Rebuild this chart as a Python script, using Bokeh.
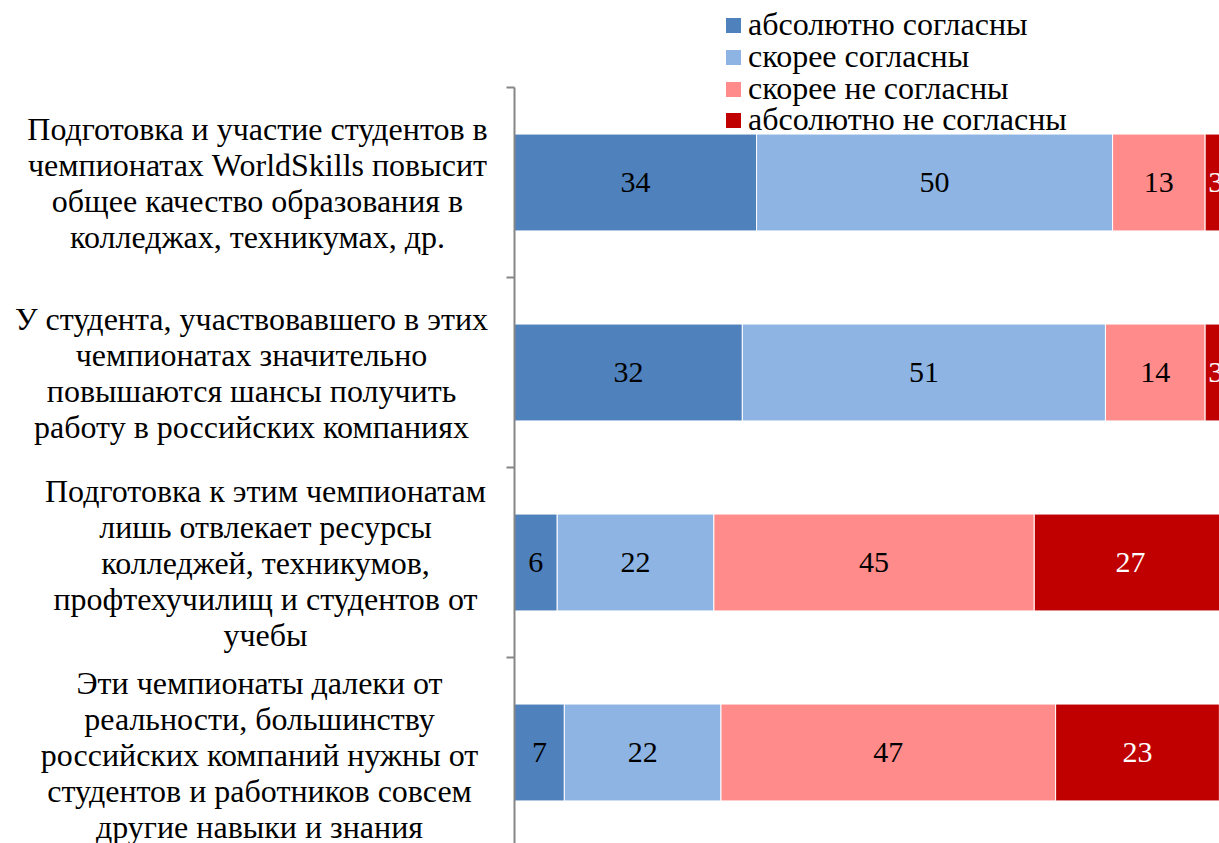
from bokeh.plotting import figure
from bokeh.layouts import row
from bokeh.models import ColumnDataSource, Range1d, FixedTicker, Legend, LegendItem
from bokeh.core.properties import value
from bokeh.embed import file_html
from bokeh.resources import INLINE

# ---- data ----
categories = [
    "Подготовка и участие студентов в\nчемпионатах WorldSkills повысит\nобщее качество образования в\nколледжах, техникумах, др.",
    "У студента, участвовавшего в этих\nчемпионатах значительно\nповышаются шансы получить\nработу в российских компаниях",
    "Подготовка к этим чемпионатам\nлишь отвлекает ресурсы\nколледжей, техникумов,\nпрофтехучилищ и студентов от\nучебы",
    "Эти чемпионаты далеки от\nреальности, большинству\nроссийских компаний нужны от\nстудентов и работников совсем\nдругие навыки и знания",
]
series_names = ["абсолютно согласны", "скорее согласны", "скорее не согласны", "абсолютно не согласны"]
abs_agree = [34, 32, 6, 7]
rather_agree = [50, 51, 22, 22]
rather_disagree = [13, 14, 45, 47]
abs_disagree = [3, 3, 27, 23]

series_values = [abs_agree, rather_agree, rather_disagree, abs_disagree]
colors = ["#4F81BD", "#8DB4E2", "#FF8B8B", "#C00000"]
label_colors = ["black", "black", "black", "white"]

FONT = "Liberation Serif"
W, H = 1219, 843
LABEL_W = 494          # width of the category-label panel
AXIS_PANEL = 20        # space between label panel and plot frame
PX_PER_UNIT = 7.12
AXIS_TOP = 87
BAND = 190
LINE_H = 36
label_centres = [257, 251, 265, 259]
label_shift = [0, 0, 0, -2]          # px, fine vertical adjustment of label blocks
legend_row_centres = [25, 56.7, 88.4, 120]   # px from top
LEGEND_ITEM_H = 36.3

ys = list(range(len(categories)))
y_range = Range1d(3.5 - (AXIS_TOP + 4 * BAND - H) / BAND, -0.5 - AXIS_TOP / BAND)

# ---- main bar chart ----
main_w = W - LABEL_W
p = figure(width=main_w, height=H, output_backend="svg", toolbar_location=None,
           x_range=Range1d(0, (main_w - AXIS_PANEL) / PX_PER_UNIT), y_range=y_range,
           x_axis_location=None, min_border_left=AXIS_PANEL, min_border_right=0,
           min_border_top=0, min_border_bottom=0, outline_line_color=None)
p.grid.visible = False

left = [0] * len(categories)
renderers = []
for name, vals, col, lcol in zip(series_names, series_values, colors, label_colors):
    right = [l + v for l, v in zip(left, vals)]
    src = ColumnDataSource(dict(y=ys, left=left, right=right,
                                mid=[(l + r) / 2 for l, r in zip(left, right)],
                                txt=[str(v) for v in vals]))
    r = p.hbar(y="y", left="left", right="right", height=0.51, source=src,
               fill_color=col, line_color="white", line_width=1)
    renderers.append(r)
    p.text(x="mid", y="y", text="txt", source=src, text_font=value(FONT),
           text_font_size="30px", text_align="center", text_baseline="middle",
           text_color=lcol)
    left = right

# y axis: tick marks at category boundaries
bounds = [y - 0.5 for y in ys] + [ys[-1] + 0.5]
ax = p.yaxis[0]
ax.ticker = FixedTicker(ticks=bounds, minor_ticks=[])
ax.bounds = (bounds[0], bounds[-1])
ax.major_label_overrides = {b: "" for b in bounds}
ax.major_tick_in = 0
ax.major_tick_out = 8
ax.major_tick_line_color = "#868686"
ax.major_tick_line_width = 2
ax.minor_tick_line_color = None
ax.axis_line_color = "#868686"
ax.axis_line_width = 2

# legend: one entry per Legend so the rows can sit as tightly as in the reference
for n, r, cy in zip(series_names, renderers, legend_row_centres):
    lg = Legend(items=[LegendItem(label=n, renderers=[r])],
                location=(209, round(H - cy - LEGEND_ITEM_H / 2)),
                glyph_width=20, glyph_height=20, label_standoff=5,
                padding=0, margin=0, spacing=0, border_line_color=None,
                background_fill_alpha=0, label_text_font=FONT, label_text_font_size="32px",
                label_text_color="black")
    p.add_layout(lg, "center")

# ---- category label panel (shares the y range) ----
lx, ly, lt, lo = [], [], [], []
for i, cat in enumerate(categories):
    lines = cat.split("\n")
    n = len(lines)
    for j, ln in enumerate(lines):
        lx.append(label_centres[i])
        ly.append(i)
        lt.append(ln)
        lo.append((j - (n - 1) / 2) * LINE_H - label_shift[i])
lab_src = ColumnDataSource(dict(x=lx, y=ly, t=lt, o=lo))

q = figure(width=LABEL_W, height=H, output_backend="svg", toolbar_location=None,
           x_range=Range1d(0, LABEL_W), y_range=y_range,
           x_axis_location=None, y_axis_location=None,
           min_border_left=0, min_border_right=0, min_border_top=0, min_border_bottom=0,
           outline_line_color=None)
q.grid.visible = False
q.text(x="x", y="y", text="t", y_offset="o", source=lab_src, text_font=value(FONT),
       text_font_size="32px", text_align="center", text_baseline="middle",
       text_color="black")

layout = row(q, p, spacing=0)
open("out.html", "w").write(file_html(layout, INLINE))
